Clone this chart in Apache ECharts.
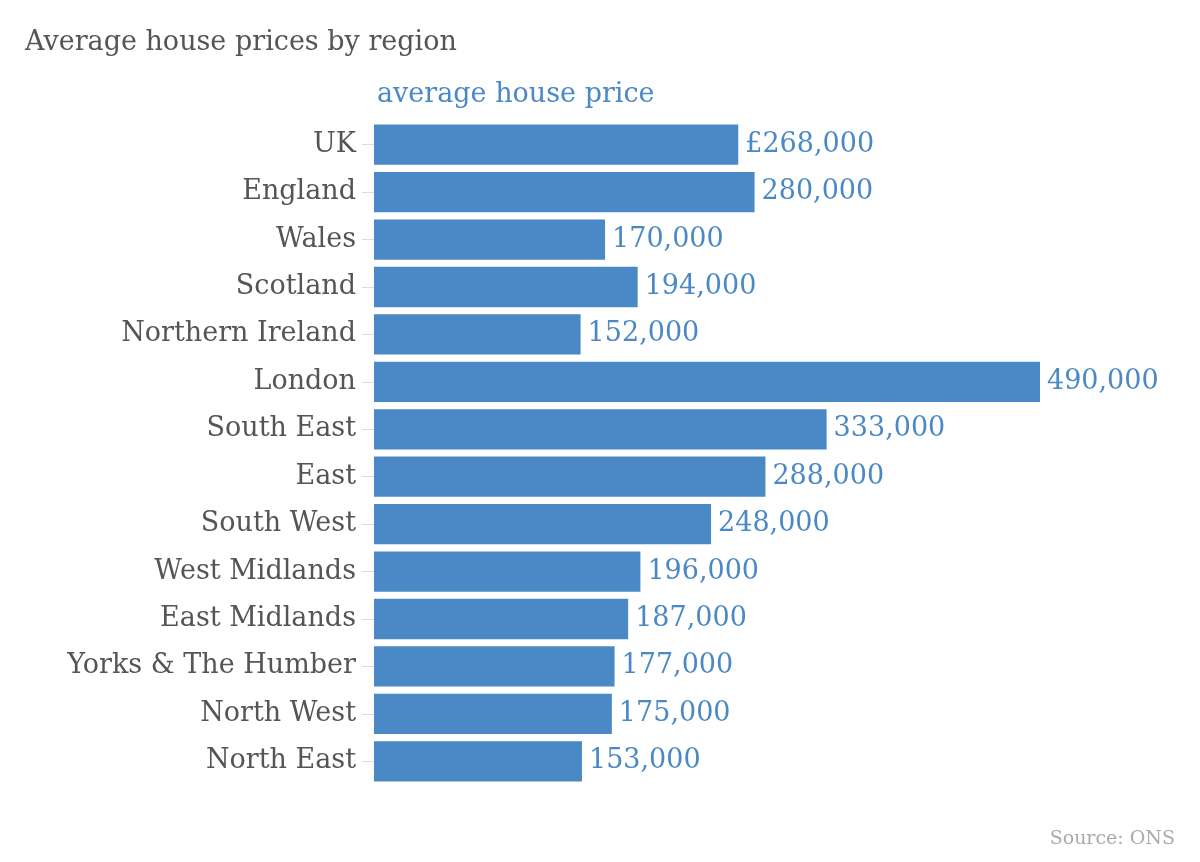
<!DOCTYPE html>
<html><head><meta charset="utf-8">
<script src="https://cdn.jsdelivr.net/npm/echarts@6/dist/echarts.min.js"></script>
<style>html,body{margin:0;padding:0;background:#fff}#c{width:1200px;height:862px}</style>
</head><body><div id="c"></div>
<script>
const categories = ["UK","England","Wales","Scotland","Northern Ireland","London","South East","East","South West","West Midlands","East Midlands","Yorks & The Humber","North West","North East"];
const prices = [268000,280000,170000,194000,152000,490000,333000,288000,248000,196000,187000,177000,175000,153000];
const F = "DejaVu Serif";
const chart = echarts.init(document.getElementById('c'));
chart.setOption({
  animation:false,
  textStyle:{fontFamily:F},
  title:[
    {text:"Average house prices by region",left:20,top:24,textStyle:{fontFamily:F,fontSize:27,fontWeight:'normal',color:'#555'}},
    {text:"average house price",left:372,top:76,textStyle:{fontFamily:F,fontSize:27,fontWeight:'normal',color:'#4a89c5'}},
    {text:"Source: ONS",right:20,bottom:8,textStyle:{fontFamily:F,fontSize:19,fontWeight:'normal',color:'#aaa'}}
  ],
  grid:{left:374,right:160,top:121,bottom:77},
  xAxis:{type:'value',min:0,max:490000,show:false},
  yAxis:{type:'category',data:categories,inverse:true,
    axisLine:{show:false},
    axisTick:{show:true,length:12,alignWithLabel:true,lineStyle:{color:'#ddd'}},
    axisLabel:{fontFamily:F,fontSize:27,color:'#555',margin:18}},
  series:[{type:'bar',data:prices,barCategoryGap:'15%',itemStyle:{color:'#4a89c5'},
    label:{show:true,position:'right',distance:7,fontFamily:F,fontSize:27,color:'#4a89c5',
      formatter:p=>(p.dataIndex===0?'£':'')+p.value.toLocaleString('en-US')}}]
});
</script></body></html>
